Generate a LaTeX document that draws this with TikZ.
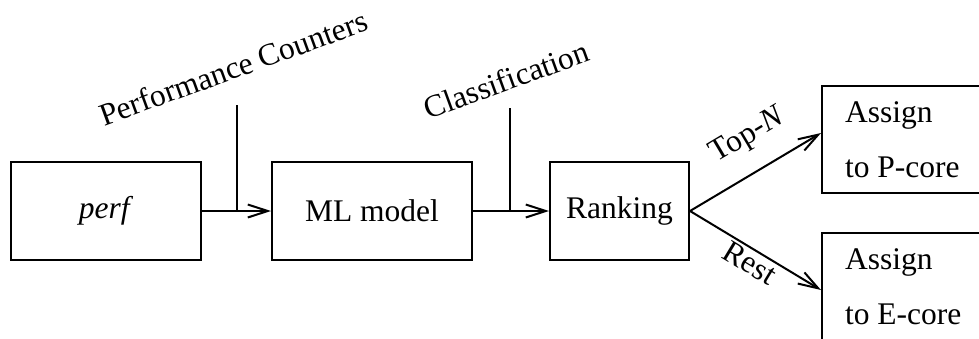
\documentclass[tikz,border=0pt]{standalone}
\usepackage{fontspec}
\setmainfont{Liberation Serif}
\usetikzlibrary{arrows.meta}
\begin{document}
\begin{tikzpicture}[x=1pt,y=-1pt,
  every node/.style={font=\fontsize{31.5}{55}\selectfont},
  box/.style={draw, line width=2pt, minimum height=98pt, inner sep=0pt},
  rbox/.style={draw, line width=2pt, minimum height=107pt, inner xsep=23pt, inner ysep=0pt, align=left, anchor=west},
  conn/.style={line width=2pt},
  arr/.style={conn, -{Straight Barb[length=20pt,width=13pt]}},
  lbl/.style={inner sep=0pt}]
\useasboundingbox (0,0) rectangle (979,338);
\node[box, minimum width=190pt] (perf) at (106,211) {\textit{perf}};
\node[box, minimum width=200pt] (ml) at (372,211) {ML model};
\node[box, minimum width=139pt] (rank) at (619.5,211) {Ranking};
\node[rbox] (P) at (821,139.5) {Assign\\to P-core};
\node[rbox] (E) at (821,286.5) {Assign\\to E-core};
\coordinate (pc) at (237,105);
\coordinate (cl) at (510,108);
\draw[arr] (perf) -- (ml);
\draw[conn] (pc) -- (pc |- perf.east);
\draw[arr] (ml) -- (rank);
\draw[conn] (cl) -- (cl |- ml.east);
\node[lbl, rotate=20, anchor=base] (pcl) at (237,78) {Performance Counters};
\node[lbl, rotate=20, anchor=base] (cll) at (510,90) {Classification};
\draw[arr] (rank.east) -- ([yshift=6.5pt]P.west) node[lbl, pos=0.58, sloped, above=20pt] (top) {Top-\textit{N}};
\draw[arr] (rank.east) -- ([yshift=-3.5pt]E.west) node[lbl, pos=0.51, sloped, below=2pt] (rest) {Rest};
\end{tikzpicture}
\end{document}
